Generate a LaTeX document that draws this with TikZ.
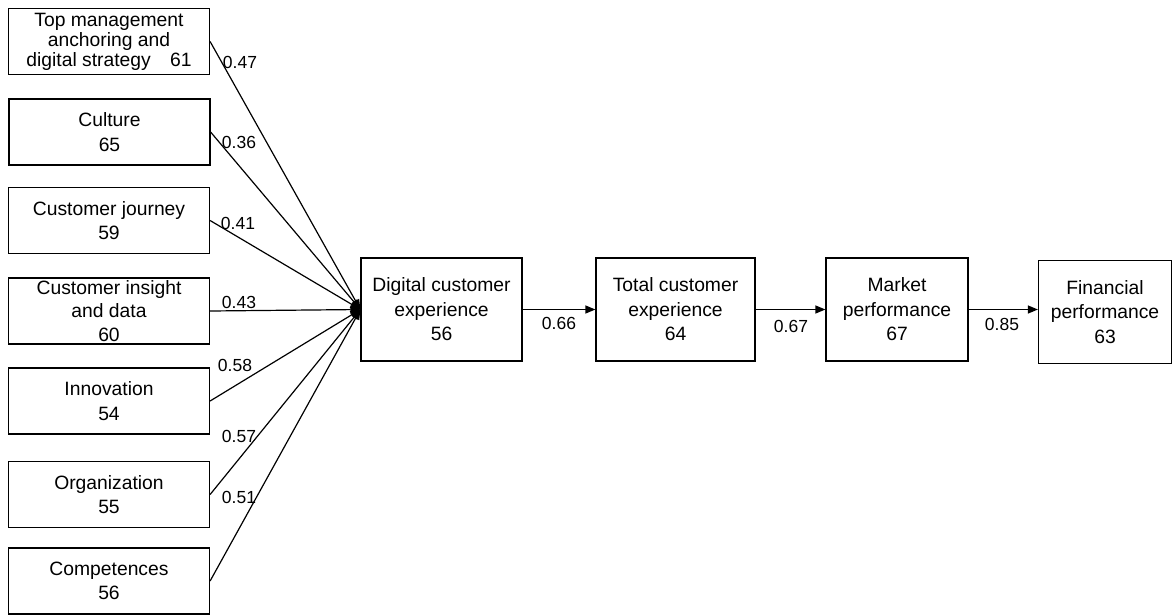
\documentclass[tikz,border=0pt]{standalone}
\usepackage{fontspec}
\setmainfont{Liberation Sans}
\usetikzlibrary{arrows.meta}
\begin{document}
\begin{tikzpicture}[x=1pt,y=-1pt,
  box/.style={draw, line width=1.2pt, rectangle, align=center, inner sep=0pt,
    font=\fontsize{19.3}{24.5}\selectfont},
  leftbox/.style={box, minimum width=201pt, minimum height=66pt},
  midbox/.style={box, minimum height=103pt},
  lbl/.style={font=\fontsize{17.5}{20}\selectfont, inner sep=0pt},
  link/.style={line width=1.2pt, -{Triangle[length=10pt,width=8pt]}}]
\useasboundingbox (0,0) rectangle (1173,614);
% left column
\node[leftbox, font=\fontsize{19.3}{20}\selectfont] (b1) at (109,41.5) {Top management\\anchoring and\\digital strategy\quad 61};
\node[leftbox] (b2) at (109.5,132) {Culture\\65};
\node[leftbox] (b3) at (109,220.5) {Customer journey\\59};
\node[leftbox, font=\fontsize{19.3}{23.5}\selectfont] (b4) at (109,311) {Customer insight\\and data\\60};
\node[leftbox] (b5) at (109,401) {Innovation\\54};
\node[leftbox] (b6) at (109,494.5) {Organization\\55};
\node[leftbox] (b7) at (109,581) {Competences\\56};
% chain
\node[midbox, minimum width=161pt] (dce) at (441.5,309.5) {Digital customer\\experience\\56};
\node[midbox, minimum width=159pt] (tce) at (675.5,309.5) {Total customer\\experience\\64};
\node[midbox, minimum width=142pt] (mp) at (897,309.5) {Market\\performance\\67};
\node[midbox, minimum width=133pt] (fp) at (1105,312) {Financial\\performance\\63};
% connectors
\foreach \b in {b1,b2,b3,b4,b5,b6,b7}
  \draw[link] (\b.east) -- (dce.west);
\draw[link] (dce.east) -- (tce.west);
\draw[link] (tce.east) -- (mp.west);
\draw[link] (mp.east) -- (mp.east -| fp.west);
% labels
\node[lbl] (l1) at (240,62) {0.47};
\node[lbl] (l2) at (239,142) {0.36};
\node[lbl] (l3) at (238,223) {0.41};
\node[lbl] (l4) at (239,302) {0.43};
\node[lbl] (l5) at (235,365) {0.58};
\node[lbl] (l6) at (239,436) {0.57};
\node[lbl] (l7) at (239,497) {0.51};
\node[lbl] (l8) at (559,323) {0.66};
\node[lbl] (l9) at (791,326) {0.67};
\node[lbl] (l10) at (1002,324) {0.85};
\end{tikzpicture}
\end{document}
